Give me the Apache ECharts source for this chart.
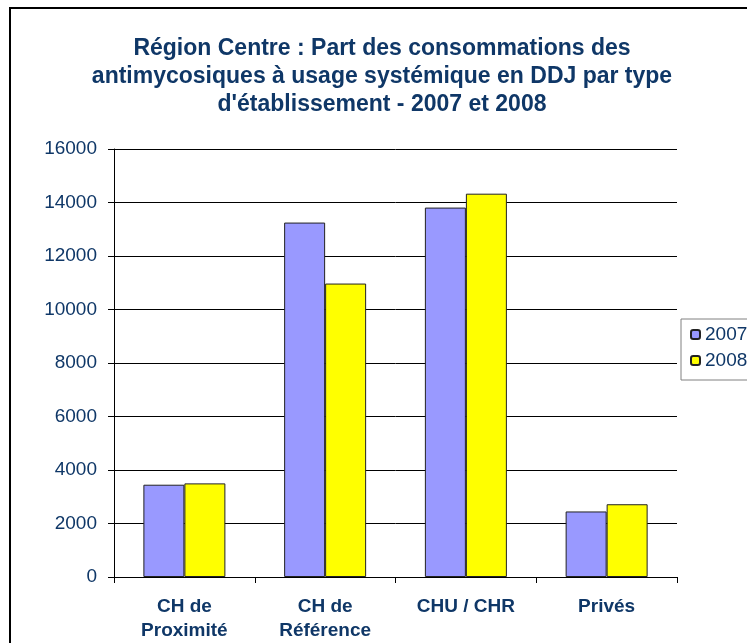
<!DOCTYPE html>
<html>
<head>
<meta charset="utf-8">
<script src="https://cdn.jsdelivr.net/npm/echarts@6/dist/echarts.min.js"></script>
<style>
  html, body { margin: 0; padding: 0; background: #fff; }
  #chart { width: 747px; height: 643px; }
</style>
</head>
<body>
<div id="chart"></div>
<script>
// établissements
const categories = ['CH de\nProximité', 'CH de\nRéférence', 'CHU / CHR', 'Privés'];
const values2007 = [3450, 13250, 13810, 2450];
const values2008 = [3500, 10970, 14330, 2720];
const yTicks = [0, 2000, 4000, 6000, 8000, 10000, 12000, 14000, 16000];

const navy = '#0f3767';
const chart = echarts.init(document.getElementById('chart'));

const option = {
    animation: false,
    backgroundColor: '#fff',
    textStyle: { fontFamily: 'Liberation Sans, Arial, sans-serif' },
    title: {
        text: 'Région Centre : Part des consommations des\nantimycosiques à usage systémique en DDJ par type\nd\'établissement - 2007 et 2008',
        left: 377,
        top: 30,
        textAlign: 'center',
        textStyle: {
            fontSize: 23,
            fontWeight: 'bold',
            color: navy,
            lineHeight: 28
        }
    },
    legend: {
        orient: 'vertical',
        left: 681,
        top: 319,
        data: ['2007', '2008'],
        itemWidth: 9,
        itemHeight: 9,
        itemGap: 7,
        padding: [6, 40, 10, 9],
        borderColor: '#808080',
        borderWidth: 1,
        textStyle: { fontSize: 19, color: navy, lineHeight: 19 }
    },
    grid: { left: 114, top: 149, width: 563, height: 434 },
    xAxis: {
        type: 'category',
        data: categories,
        axisLine: { lineStyle: { color: '#000', width: 1 } },
        axisTick: { show: true, length: 6, lineStyle: { color: '#000' } },
        axisLabel: {
            fontSize: 19,
            fontWeight: 'bold',
            color: navy,
            lineHeight: 24,
            margin: 18
        }
    },
    yAxis: {
        type: 'value',
        min: yTicks[0],
        max: yTicks[yTicks.length - 1],
        interval: 2000,
        axisLine: { show: true, lineStyle: { color: '#000', width: 1 } },
        axisTick: { show: true, length: 6, lineStyle: { color: '#000' } },
        axisLabel: {
            fontSize: 19,
            color: navy,
            margin: 17,
            formatter: (v) => String(v)
        },
        splitLine: { lineStyle: { color: '#000', width: 1 } }
    },
    series: [
        {
            name: '2007',
            type: 'bar',
            data: values2007,
            barWidth: 41,
            barGap: '0%',
            itemStyle: { color: '#9999ff', borderColor: '#222', borderWidth: 1 }
        },
        {
            name: '2008',
            type: 'bar',
            data: values2008,
            barWidth: 41,
            itemStyle: { color: '#ffff00', borderColor: '#222', borderWidth: 1 }
        }
    ],
    graphic: [
        {
            type: 'rect',
            shape: { x: 10, y: 8, width: 800, height: 700 },
            style: { fill: 'none', stroke: '#000', lineWidth: 2 },
            silent: true
        }
    ]
};

chart.setOption(option);
</script>
</body>
</html>
